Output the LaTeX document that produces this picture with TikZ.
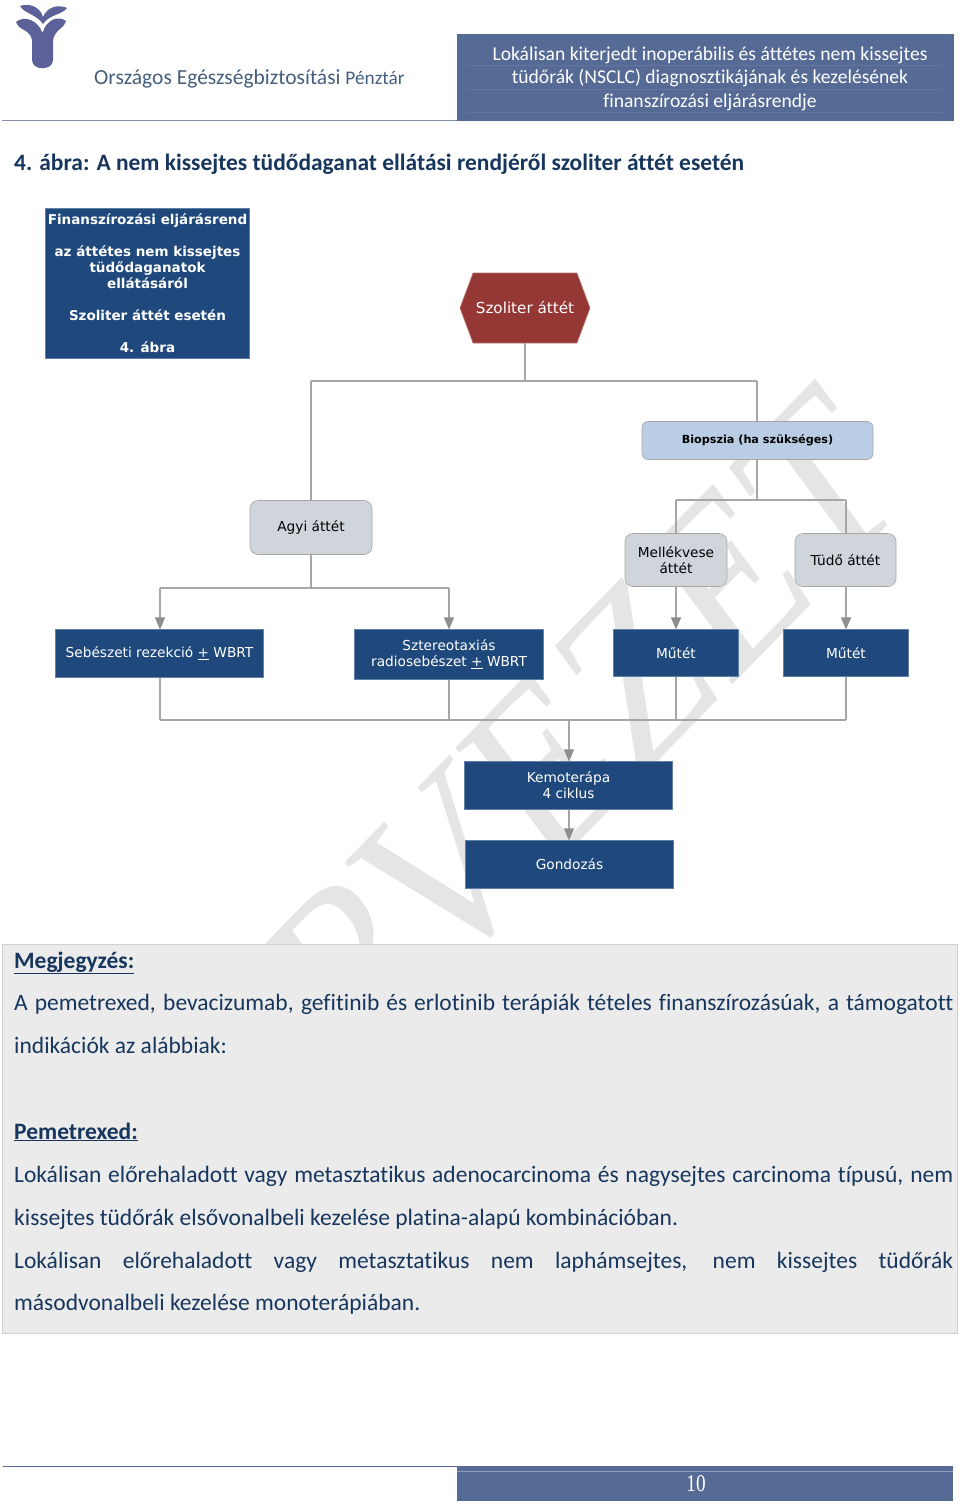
\documentclass[tikz,border=0pt]{standalone}
\usepackage{fontspec}
\setmainfont{Carlito}[Ligatures=NoCommon]
\newfontfamily\boxfont{DejaVu Sans}
\newfontfamily\wmfont{Liberation Serif}
\usetikzlibrary{arrows.meta, positioning, shapes.symbols}
\definecolor{navybox}{HTML}{1F497D}
\definecolor{headblue}{HTML}{566A96}
\definecolor{headline}{HTML}{62759F}
\definecolor{headrule}{HTML}{7F8CA3}
\definecolor{notetext}{HTML}{17365D}
\definecolor{hexred}{HTML}{953735}
\definecolor{softgray}{HTML}{D0D4DB}
\definecolor{softblue}{HTML}{B9CDE5}
\definecolor{linegray}{HTML}{A6A6A6}
\definecolor{tipgray}{HTML}{8E8E8E}
\definecolor{logoblue}{HTML}{5C6199}
\newcommand{\noteline}[1]{\makebox[939pt][s]{#1}}

\begin{document}
\begin{tikzpicture}[x=1pt, y=-1pt]
    \tikzstyle{navy} = [shape=rectangle, fill=navybox, draw=navybox!70!white, line width=0.6pt, text=white, font=\boxfont\fontsize{13.7}{16}\selectfont, align=center, inner sep=0pt];
    \tikzstyle{soft} = [shape=rectangle, rounded corners=8pt, fill=softgray, draw=gray!70, line width=0.6pt, text=black, font=\boxfont\fontsize{13.7}{16}\selectfont, align=center, inner sep=0pt];
    \tikzstyle{link} = [draw=linegray, line width=1.2pt];
    \tikzstyle{arrow} = [link, -{Triangle[length=12pt,width=10pt,color=tipgray]}];
    \tikzstyle{note} = [anchor=base west, inner sep=0pt, text=notetext, font=\fontsize{23.5}{25}\selectfont];
    \tikzstyle{head} = [text=white, inner sep=0pt, font=\fontsize{19.6}{24}\selectfont];

    \useasboundingbox (0,0) rectangle (960,1507);

    % watermark
    \begin{scope}[shift={(165,1268)}, cm={1.5,1.54,-1.42,1.91,(0,0)}]
        \node[transform shape, anchor=base west, text=black!10, inner sep=0pt, font=\wmfont\fontsize{100}{100}\selectfont] (wm) at (0,0) {TERVEZET};
    \end{scope}

    % header
    \fill[logoblue] (32,38) -- (53,38) -- (53,60) .. controls (53,71) and (32,71) .. (32,60) -- cycle;
    \fill[logoblue] (16,22) .. controls (24,15) and (38,20) .. (42.5,33) .. controls (46,20) and (58,15) .. (66,21) .. controls (65,28) and (55,29) .. (53,40) -- (32,40) .. controls (30,29) and (19,31) .. (16,22) -- cycle;
    \fill[logoblue] (20,6) .. controls (28,3) and (40,6) .. (43,17) .. controls (47,7) and (58,4) .. (67,8) .. controls (62,15) and (50,14) .. (43,24) .. controls (36,14) and (25,14) .. (20,6) -- cycle;
    \node[anchor=base west, inner sep=0pt, text=notetext!80!white, font=\fontsize{21.5}{24}\selectfont] (kasse) at (94,84) {Országos Egészségbiztosítási {\fontsize{19.3}{24}\selectfont Pénztár}};
    \draw[draw=headrule, line width=1pt] (2,120.5) -- (457,120.5);
    \fill[headblue] (457,34) rectangle (954,120.5);
    \draw[headline, line width=0.6pt] (467,65) -- (943,65) (467,89) -- (943,89) (467,112) -- (943,112);
    \node[head] (headA) at (710,55) {Lokálisan kiterjedt inoperábilis és áttétes nem kissejtes};
    \node[head] (headB) at (710,78.5) {tüdőrák (NSCLC) diagnosztikájának és kezelésének};
    \node[head] (headC) at (710,102.5) {finanszírozási eljárásrendje};

    \node[anchor=base west, inner sep=0pt, text=notetext, font=\bfseries\fontsize{23.45}{25}\selectfont] (caption) at (14,170) {4. ábra: A nem kissejtes tüdődaganat ellátási rendjéről szoliter áttét esetén};

    % flowchart
    \node[navy, minimum width=204pt, minimum height=150pt, font=\boxfont\bfseries\fontsize{13.5}{16}\selectfont] (Cover) at (147.5,283) {Finanszírozási eljárásrend\\[16pt] az áttétes nem kissejtes\\ tüdődaganatok\\ ellátásáról\\[16pt] Szoliter áttét esetén\\[16pt] 4. ábra};
    \node[signal, signal from=nowhere, signal to=east and west, signal pointer angle=139, minimum width=130pt, minimum height=70pt, inner sep=0pt, fill=hexred, draw=hexred!70!white, line width=0.6pt, text=white, font=\boxfont\fontsize{15.2}{16}\selectfont] (Hex) at (525,308) {Szoliter áttét};

    \node[soft, rounded corners=6pt, fill=softblue, minimum width=231pt, minimum height=38pt, font=\boxfont\bfseries\fontsize{11.2}{14}\selectfont] (Biopsy) at (757.5,440.5) {Biopszia (ha szükséges)};
    \node[soft, minimum width=122pt, minimum height=54pt] (Brain) at (311,527.5) {Agyi áttét};
    \node[soft, minimum width=102pt, minimum height=53pt] (Adrenal) at (676,560) {Mellékvese\\ áttét};
    \node[soft, minimum width=101pt, minimum height=53pt] (Lung) at (845.5,560) {Tüdő áttét};

    \node[navy, minimum width=208pt, minimum height=47.5pt] (Surgery) at (159.5,653.5) {Sebészeti rezekció \underline{+} WBRT};
    \node[navy, minimum width=189pt, minimum height=49.5pt] (Stereo) at (449,654.5) {Sztereotaxiás\\ radiosebészet \underline{+} WBRT};
    \node[navy, minimum width=124.5pt, minimum height=46.5pt] (OpA) at (676,653) {Műtét};
    \node[navy, minimum width=125.5pt, minimum height=46.5pt] (OpB) at (846,653) {Műtét};
    \node[navy, minimum width=208pt, minimum height=47.5pt] (Chemo) at (568.5,785.5) {Kemoterápa\\ 4 ciklus};
    \node[navy, minimum width=208pt, minimum height=47.5pt] (Care) at (569.5,864.5) {Gondozás};

    \coordinate (HexJoin) at (525,381);
    \coordinate (BrainTop) at (311,381);
    \coordinate (BiopsyTop) at (757,381);
    \coordinate (BiopsyJoin) at (757,500);
    \coordinate (AdrenalTop) at (676,500);
    \coordinate (LungTop) at (846,500);
    \coordinate (BrainJoin) at (311,588);
    \coordinate (SurgeryTop) at (160,588);
    \coordinate (StereoTop) at (449,588);
    \coordinate (SurgeryEnd) at (160,720);
    \coordinate (StereoEnd) at (449,720);
    \coordinate (OpAEnd) at (676,720);
    \coordinate (OpBEnd) at (846,720);
    \coordinate (ChemoTop) at (569,720);

    \draw[link]
        (Hex.south) -- (HexJoin)
        (BrainTop) -- (BiopsyTop)
        (BrainTop) -- (Brain.north)
        (BiopsyTop) -- (BiopsyTop |- Biopsy.north)
        (BiopsyTop |- Biopsy.south) -- (BiopsyJoin)
        (AdrenalTop) -- (LungTop)
        (AdrenalTop) -- (Adrenal.north)
        (LungTop) -- (LungTop |- Lung.north)
        (Brain.south) -- (BrainJoin)
        (SurgeryTop) -- (StereoTop)
        (Surgery.south -| SurgeryEnd) -- (SurgeryEnd)
        (Stereo.south) -- (StereoEnd)
        (OpA.south) -- (OpAEnd)
        (OpB.south) -- (OpBEnd)
        (SurgeryEnd) -- (OpBEnd)
    ;
    \draw[arrow] (SurgeryTop) -- (SurgeryTop |- Surgery.north);
    \draw[arrow] (StereoTop) -- (Stereo.north);
    \draw[arrow] (Adrenal.south) -- (OpA.north);
    \draw[arrow] (LungTop |- Lung.south) -- (OpB.north);
    \draw[arrow] (ChemoTop) -- (ChemoTop |- Chemo.north);
    \draw[arrow] (ChemoTop |- Chemo.south) -- (ChemoTop |- Care.north);

    % note box
    \fill[black!8] (2.5,944) rectangle (957.5,1333);
    \draw[black!18, line width=0.8pt] (2.5,944) rectangle (957.5,1333);
    \node[note, font=\bfseries\fontsize{23.5}{25}\selectfont] (noteA) at (14,968) {\underline{Megjegyzés:}};
    \node[note] (noteB) at (14,1010) {\noteline{A pemetrexed, bevacizumab, gefitinib és erlotinib terápiák tételes finanszírozásúak, a támogatott}};
    \node[note] (noteC) at (14,1053) {indikációk az alábbiak:};
    \node[note, font=\bfseries\fontsize{23.5}{25}\selectfont] (noteD) at (14,1139) {\underline{Pemetrexed:}};
    \node[note] (noteE) at (14,1182) {\noteline{Lokálisan előrehaladott vagy metasztatikus adenocarcinoma és nagysejtes carcinoma típusú, nem}};
    \node[note] (noteF) at (14,1225) {kissejtes tüdőrák elsővonalbeli kezelése platina-alapú kombinációban.};
    \node[note] (noteG) at (14,1268) {\noteline{Lokálisan előrehaladott vagy metasztatikus nem laphámsejtes, nem kissejtes tüdőrák}};
    \node[note] (noteH) at (14,1310) {másodvonalbeli kezelése monoterápiában.};

    % footer
    \draw[draw=headblue, line width=1pt] (3,1466) -- (457,1466);
    \fill[headblue] (457,1466) rectangle (953,1501);
    \draw[headline!70!white, line width=0.8pt] (457,1471) -- (953,1471);
    \node[text=white, inner sep=0pt, xscale=0.8, font=\wmfont\fontsize{24}{24}\selectfont] (pageno) at (696,1484) {10};
\end{tikzpicture}
\end{document}
